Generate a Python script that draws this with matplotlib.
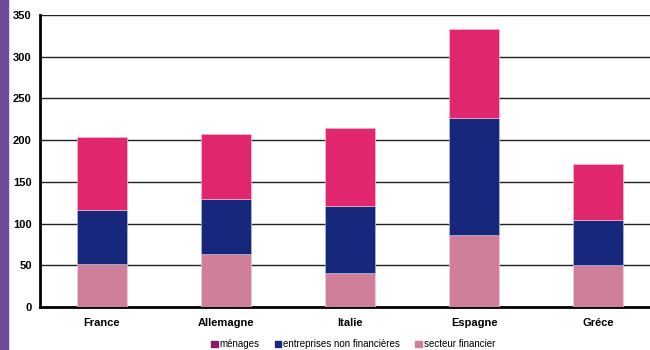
import numpy as np
import matplotlib.pyplot as plt
from matplotlib.patches import Rectangle

plt.rcParams['font.family'] = ['Liberation Sans', 'DejaVu Sans']

# données
pays = ["France", "Allemagne", "Italie", "Espagne", "Gréce"]
secteur_financier = [52, 63, 41, 86, 50]
entreprises = [64, 66, 80, 140, 54]
menages = [88, 78, 94, 107, 67]

couleur_fin = "#CF7F9A"
couleur_ent = "#17287C"
couleur_men = "#E0276E"

fig = plt.figure(figsize=(6.5, 3.5), dpi=100)
ax = fig.add_axes([40 / 650, 1 - 307 / 350, 620 / 650, 292 / 350])

x = np.arange(len(pays))
bas2 = np.array(secteur_financier)
bas3 = bas2 + np.array(entreprises)
w = 0.4
ax.bar(x, secteur_financier, w, color=couleur_fin, edgecolor="#F0D0DC", linewidth=0.5, zorder=3)
ax.bar(x, entreprises, w, bottom=bas2, color=couleur_ent, edgecolor="#B0B8D8", linewidth=0.5, zorder=3)
ax.bar(x, menages, w, bottom=bas3, color=couleur_men, edgecolor="#F4B8CC", linewidth=0.5, zorder=3)

ax.set_xlim(-0.5, len(pays) - 0.5)
ax.set_ylim(0, 350)
ax.set_yticks(range(0, 351, 50))
ax.yaxis.grid(True, color="#222222", linewidth=1)
ax.set_axisbelow(True)
for s in ["top", "right"]:
    ax.spines[s].set_visible(False)
ax.spines["left"].set_linewidth(2)
ax.spines["bottom"].set_linewidth(2)
ax.tick_params(length=0, labelsize=8)
ax.tick_params(axis="y", pad=6)
ax.tick_params(axis="x", pad=8)
ax.set_xticks(x)
ax.set_xticklabels(pays, fontweight="bold")
for t in ax.get_yticklabels():
    t.set_fontweight("bold")

# légende en bas
handles = [Rectangle((0, 0), 1, 1, color=c) for c in ["#8B1A6E", couleur_ent, couleur_fin]]
fig.legend(handles, ["ménages", "entreprises non financières", "secteur financier"],
           loc="center", bbox_to_anchor=(0.543, 0.016), ncol=3, frameon=False,
           fontsize=7, handlelength=0.7, handleheight=0.7, handletextpad=0.15, columnspacing=1.6)

# bande violette à gauche
fig.patches.append(Rectangle((0, 0), 8 / 650, 1, transform=fig.transFigure,
                             color="#6C4B98", zorder=0))

fig.savefig("out.png", dpi=100)
